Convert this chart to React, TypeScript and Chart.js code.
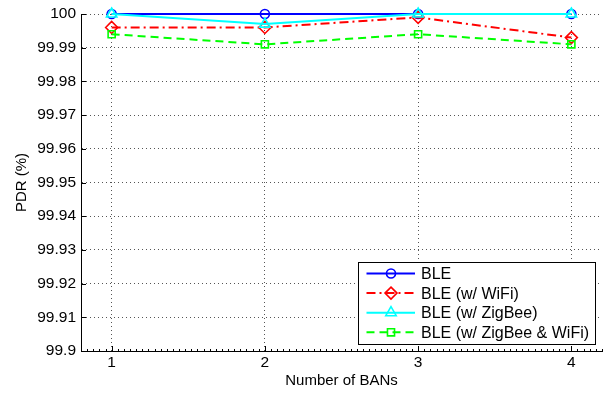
import React, { useEffect, useRef } from 'react';
import { Chart, registerables } from 'chart.js';

Chart.register(...registerables);

// ---------- data ----------
const categories = [1, 2, 3, 4];
const seriesLabels = ['BLE', 'BLE (w/ WiFi)', 'BLE (w/ ZigBee)', 'BLE (w/ ZigBee & WiFi)'];
const bleValues = [100, 100, 100, 100];
const bleWifiValues = [99.996, 99.996, 99.999, 99.993];
const bleZigbeeValues = [100, 99.997, 100, 100];
const bleZigbeeWifiValues = [99.994, 99.991, 99.994, 99.991];
const xTickValues = [1, 2, 3, 4];
const yTickValues = [99.9, 99.91, 99.92, 99.93, 99.94, 99.95, 99.96, 99.97, 99.98, 99.99, 100];
const xTitle = 'Number of BANs';
const yTitle = 'PDR (%)';

const FONT = '"Liberation Sans", Arial, Helvetica, sans-serif';

function drawMarker(ctx: CanvasRenderingContext2D, style: string, x: number, y: number, r: number) {
  ctx.beginPath();
  if (style === 'circle') {
    ctx.arc(x, y, r, 0, Math.PI * 2);
  } else if (style === 'rectRot') {
    ctx.moveTo(x, y - r);
    ctx.lineTo(x + r, y);
    ctx.lineTo(x, y + r);
    ctx.lineTo(x - r, y);
    ctx.closePath();
  } else if (style === 'triangle') {
    const a = (2 * Math.PI) / 3;
    ctx.moveTo(x, y - r);
    ctx.lineTo(x + Math.sin(a) * r, y - Math.cos(a) * r);
    ctx.lineTo(x + Math.sin(2 * a) * r, y - Math.cos(2 * a) * r);
    ctx.closePath();
  } else {
    const s = r * Math.SQRT1_2;
    ctx.rect(x - s, y - s, 2 * s, 2 * s);
  }
  ctx.stroke();
}

const decorPlugin = {
  id: 'matlabDecor',
  afterDraw(chart: any) {
    const ctx: CanvasRenderingContext2D = chart.ctx;
    const { right, left, bottom } = chart.chartArea;
    const xs = chart.scales.x;
    const ys = chart.scales.y;
    ctx.save();
    ctx.strokeStyle = '#000';
    ctx.lineWidth = 1;
    ctx.setLineDash([]);
    // inward major ticks
    ctx.beginPath();
    for (const v of yTickValues) {
      const py = Math.round(ys.getPixelForValue(v)) + 0.5;
      ctx.moveTo(left, py);
      ctx.lineTo(left + 5, py);
    }
    for (const v of xTickValues) {
      const px = Math.round(xs.getPixelForValue(v)) + 0.5;
      ctx.moveTo(px, bottom);
      ctx.lineTo(px, bottom - 5);
    }
    ctx.stroke();
    // minor x ticks
    ctx.beginPath();
    const xmin = xs.min, xmax = xs.max;
    for (let k = 0; ; k++) {
      const v = xmin + k * 0.04;
      if (v > xmax + 1e-9) break;
      const px = Math.round(xs.getPixelForValue(v)) + 0.5;
      ctx.moveTo(px, bottom);
      ctx.lineTo(px, bottom - 2);
    }
    ctx.stroke();

    // legend
    const boxRight = right - 7;
    const boxBottom = bottom - 7;
    const boxW = 237;
    const boxH = 82;
    const boxLeft = boxRight - boxW;
    const boxTop = boxBottom - boxH;
    ctx.fillStyle = '#fff';
    ctx.fillRect(boxLeft, boxTop, boxW, boxH);
    ctx.strokeStyle = '#000';
    ctx.lineWidth = 1;
    ctx.strokeRect(Math.round(boxLeft) + 0.5, Math.round(boxTop) + 0.5, boxW, boxH);
    ctx.font = `16px ${FONT}`;
    ctx.textBaseline = 'middle';
    ctx.textAlign = 'left';
    chart.data.datasets.forEach((ds: any, i: number) => {
      const yy = boxTop + 11.5 + i * 19.6;
      ctx.strokeStyle = ds.borderColor;
      ctx.lineWidth = ds.borderWidth;
      ctx.setLineDash(ds.borderDash || []);
      ctx.beginPath();
      ctx.moveTo(boxLeft + 8.5, yy);
      ctx.lineTo(boxLeft + 57, yy);
      ctx.stroke();
      ctx.setLineDash([]);
      ctx.lineWidth = ds.pointBorderWidth;
      drawMarker(ctx, ds.pointStyle, boxLeft + 33, yy, ds.pointRadius);
      ctx.fillStyle = '#000';
      ctx.fillText(ds.label, boxLeft + 63, yy + 1);
    });
    ctx.restore();
  },
};

function makeSeries(label: string, values: number[], color: string, dash: number[], style: string, radius: number, order: number) {
  return {
    label,
    data: categories.map((c, i) => ({ x: c, y: values[i] })),
    borderColor: color,
    backgroundColor: color,
    borderWidth: 2,
    borderDash: dash,
    pointStyle: style,
    pointRadius: radius,
    pointBorderWidth: 1.6,
    pointBorderColor: color,
    pointBackgroundColor: 'rgba(0,0,0,0)',
    fill: false,
    tension: 0,
    clip: false,
    order,
  };
}

export default function App() {
  const ref = useRef<HTMLCanvasElement | null>(null);
  useEffect(() => {
    const canvas = ref.current;
    if (!canvas) return;
    const tickFont = { family: FONT, size: 15.5 };
    const titleFont = { family: FONT, size: 15 };
    const chart = new Chart(canvas, {
      type: 'line',
      data: {
        datasets: [
          makeSeries(seriesLabels[0], bleValues, '#0000ff', [], 'circle', 4.5, 4),
          makeSeries(seriesLabels[1], bleWifiValues, '#ff0000', [9, 4, 2, 4], 'rectRot', 6, 3),
          makeSeries(seriesLabels[2], bleZigbeeValues, '#00ffff', [], 'triangle', 6, 2),
          makeSeries(seriesLabels[3], bleZigbeeWifiValues, '#00ff00', [8, 5], 'rect', 5, 1),
        ] as any,
      },
      options: {
        animation: false,
        responsive: false,
        devicePixelRatio: 1,
        events: [],
        layout: { autoPadding: false, padding: { top: 14, right: 3, left: 0, bottom: 0 } },
        plugins: { legend: { display: false }, tooltip: { enabled: false } },
        scales: {
          x: {
            type: 'linear',
            min: 0.8,
            max: 4.2,
            afterBuildTicks: (s: any) => {
              s.ticks = xTickValues.map((v) => ({ value: v }));
            },
            afterFit: (s: any) => {
              s.height = 45;
              s.paddingLeft = 0;
              s.paddingRight = 0;
            },
            grid: { color: '#555', lineWidth: 1, drawTicks: false },
            border: { display: true, color: '#000', width: 1, dash: [1, 3] },
            ticks: {
              font: tickFont,
              color: '#000',
              padding: 2,
              autoSkip: false,
              maxRotation: 0,
              callback: (v: any) => String(v),
            },
            title: { display: true, text: xTitle, font: titleFont, color: '#000', padding: { top: 0, bottom: 6 } },
          },
          y: {
            type: 'linear',
            min: 99.9,
            max: 100,
            afterBuildTicks: (s: any) => {
              s.ticks = yTickValues.map((v) => ({ value: v }));
            },
            afterFit: (s: any) => {
              s.width = 81;
              s.paddingTop = 0;
              s.paddingBottom = 0;
            },
            grid: { color: '#555', lineWidth: 1, drawTicks: false },
            border: { display: true, color: '#000', width: 1, dash: [1, 3] },
            ticks: {
              font: tickFont,
              color: '#000',
              padding: 5,
              autoSkip: false,
              callback: (v: any) => String(Number(Number(v).toFixed(2))),
            },
            title: { display: true, text: yTitle, font: titleFont, color: '#000', padding: { top: 13, bottom: 0 } },
          },
        },
      } as any,
      plugins: [decorPlugin],
    });
    return () => chart.destroy();
  }, []);
  return (
    <div style={{ position: 'fixed', left: 0, top: 0, width: 605, height: 396, background: '#fff' }}>
      <canvas ref={ref} width={605} height={396} style={{ width: 605, height: 396, display: 'block' }} />
    </div>
  );
}
